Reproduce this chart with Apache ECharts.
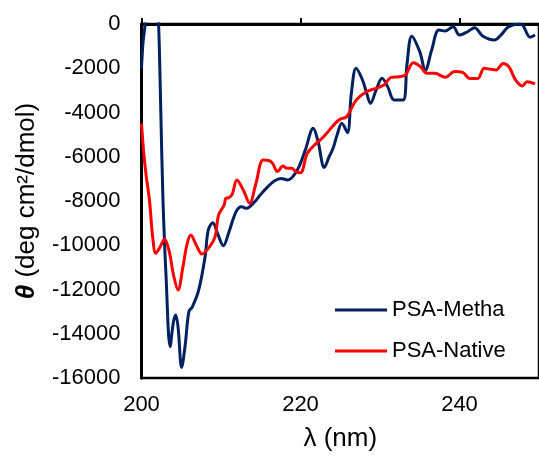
<!DOCTYPE html>
<html>
<head>
<meta charset="utf-8">
<script src="https://cdn.jsdelivr.net/npm/echarts@6/dist/echarts.min.js"></script>
<style>html,body{margin:0;padding:0;background:#fff;}#c{width:539px;height:457px;}</style>
</head>
<body>
<div id="c"></div>
<script>
const xTicks = [200, 220, 240];
const yTicks = [0, -2000, -4000, -6000, -8000, -10000, -12000, -14000, -16000];

const methaLambda = [200.0, 200.2, 200.45, 200.8, 201.6, 202.15, 202.4, 202.7, 203.1, 203.6, 204.0, 204.3, 204.6, 205.05, 205.5, 205.96, 206.4, 207.2, 208.0, 208.4, 208.97, 209.6, 210.3, 211.0, 211.9, 212.6, 213.2, 214.26, 215.0, 215.9, 216.7, 217.55, 218.4, 219.6, 220.6, 221.6, 222.2, 223.0, 223.6, 224.1, 224.6, 225.2, 225.9, 226.4, 227.0, 227.8, 228.3, 228.8, 229.5, 230.26, 230.96, 231.8, 232.9, 233.4, 234.0, 235.0, 235.7, 236.5, 237.4, 238.2, 239.2, 240.0, 241.0, 241.9, 242.9, 244.4, 245.2, 246.2, 247.7, 248.9, 249.5];
const methaValues = [-2000, -800, 0, 4000, 4000, 0, -3500, -7950, -11500, -14580, -13500, -13150, -13700, -15520, -14500, -13000, -12780, -12020, -10520, -9310, -8980, -9500, -10020, -9400, -8480, -8260, -8330, -8030, -7700, -7350, -7100, -6980, -7050, -6600, -5700, -4710, -5300, -6480, -6000, -5620, -5020, -4490, -4910, -3120, -2000, -2530, -3100, -3590, -3000, -2450, -2830, -3440, -3440, -1800, -550, -1250, -2100, -1175, -270, -320, -120, -500, -350, -170, -540, -720, -500, -120, 0, -600, -500];

const nativeLambda = [200.0, 200.3, 200.6, 201.0, 201.4, 201.8, 202.3, 202.9, 203.5, 204.0, 204.6, 205.2, 205.7, 206.2, 206.9, 207.6, 208.56, 209.26, 209.7, 210.4, 210.6, 210.95, 211.4, 212.0, 212.8, 213.6, 214.4, 215.3, 216.1, 216.5, 217.1, 217.8, 218.3, 218.9, 219.4, 220.0, 220.85, 221.76, 222.5, 223.3, 224.36, 225.0, 225.8, 227.0, 228.3, 229.5, 230.5, 231.4, 232.4, 233.2, 234.2, 235.1, 235.9, 236.9, 238.2, 239.4, 240.4, 241.3, 242.3, 243.1, 243.96, 244.6, 245.5, 246.2, 247.05, 247.9, 248.5, 249.5];
const nativeValues = [-4500, -5900, -6900, -7950, -9600, -10360, -10100, -9730, -10300, -11300, -12020, -11000, -10000, -9540, -10000, -10400, -10070, -9610, -8630, -8180, -7880, -7860, -7700, -7050, -7500, -8100, -7200, -6150, -6180, -6300, -6670, -6420, -6520, -6520, -6670, -6720, -5850, -5470, -5240, -4940, -4490, -4300, -4190, -3440, -3060, -2910, -2760, -2410, -2380, -2300, -1750, -1930, -2230, -2230, -2410, -2150, -2190, -2460, -2460, -2000, -2050, -2080, -1780, -1930, -2530, -2800, -2610, -2710];

const seriesNames = ['PSA-Metha', 'PSA-Native'];
const seriesColors = ['#002060', '#FF0000'];

function pairs(xs, ys) { return xs.map((x, i) => [x, ys[i]]); }

const chart = echarts.init(document.getElementById('c'), null, {renderer: 'canvas'});
const font = 'Liberation Sans, Arial, sans-serif';
chart.setOption({
  animation: false,
  backgroundColor: '#fff',
  textStyle: {fontFamily: font},
  grid: {left: 141.5, top: 24, width: 404, bottom: 79, show: true, borderColor: '#000', borderWidth: 2.5, containLabel: false},
  xAxis: {
    type: 'value', min: 200, max: 250, interval: 20,
    name: 'λ (nm)', nameLocation: 'middle', nameGap: 48,
    nameTextStyle: {fontSize: 26, color: '#000', fontFamily: font},
    axisLine: {show: true, lineStyle: {color: '#000', width: 3}},
    axisTick: {show: true, inside: true, length: 6, lineStyle: {color: '#000', width: 2}},
    axisLabel: {fontSize: 22, color: '#000', margin: 16, showMaxLabel: false,
      formatter: v => xTicks.includes(v) ? String(v) : ''},
    splitLine: {show: false}
  },
  yAxis: {
    type: 'value', min: -16000, max: 0, interval: 2000,
    name: '{t|θ} (deg cm²/dmol)', nameLocation: 'middle', nameGap: 102,
    nameTextStyle: {fontSize: 26, color: '#000', fontFamily: font,
      rich: {t: {fontSize: 26, fontStyle: 'italic', fontWeight: 'bold', color: '#000', fontFamily: font}}},
    axisLine: {show: true, lineStyle: {color: '#000', width: 3}},
    axisTick: {show: false},
    axisLabel: {fontSize: 22, color: '#000', margin: 21,
      formatter: v => yTicks.includes(v) ? String(v) : ''},
    splitLine: {show: false}
  },
  legend: {
    orient: 'vertical', left: 330, top: 294,
    itemWidth: 52, itemHeight: 14, itemGap: 19,
    textStyle: {fontSize: 22, color: '#000', fontFamily: font, lineHeight: 22},
    data: seriesNames.map(n => ({name: n, icon: 'path://M0,5.6 L52,5.6 L52,8.4 L0,8.4 Z'}))
  },
  series: [
    {name: seriesNames[0], type: 'line', data: pairs(methaLambda, methaValues), smooth: 0.35, symbol: 'none',
     clip: true, lineStyle: {color: seriesColors[0], width: 3}, itemStyle: {color: seriesColors[0]}},
    {name: seriesNames[1], type: 'line', data: pairs(nativeLambda, nativeValues), smooth: 0.35, symbol: 'none',
     clip: true, lineStyle: {color: seriesColors[1], width: 3}, itemStyle: {color: seriesColors[1]}}
  ]
});
</script>
</body>
</html>
